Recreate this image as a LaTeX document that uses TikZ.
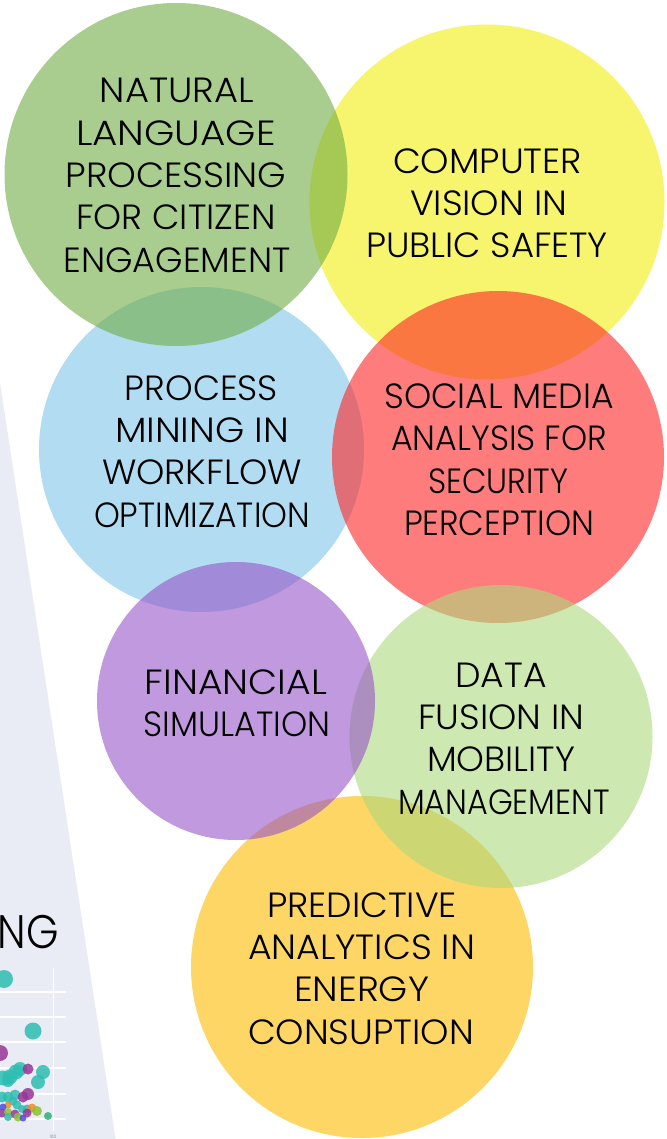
\documentclass[tikz,border=0pt]{standalone}
\usepackage{fontspec}
\setmainfont{Poppins}[UprightFont={* Light}]
\usepackage{graphicx}
\definecolor{cYellow}{RGB}{242,237,13}
\definecolor{cBlue}{RGB}{128,197,232}
\definecolor{cOrange}{RGB}{252,188,0}
\definecolor{cRed}{RGB}{255,37,37}
\definecolor{cGreen}{RGB}{112,172,68}
\definecolor{cLGreen}{RGB}{172,217,125}
\definecolor{cPurple}{RGB}{150,85,200}
\definecolor{cLav}{RGB}{233,235,245}
\definecolor{pTeal}{RGB}{45,190,178}
\definecolor{pPurple}{RGB}{150,55,150}
\definecolor{pOrange}{RGB}{240,140,40}
\definecolor{pYG}{RGB}{140,195,50}
\definecolor{pBlue}{RGB}{70,80,230}
\definecolor{pGreen}{RGB}{40,180,120}
\tikzset{
  bubble/.style={circle,inner sep=0pt,draw=none,fill opacity=0.6},
  txt/.style={inner sep=0pt,outer sep=0pt,text=black,font=\fontsize{35}{42}\selectfont,anchor=base},
  grid/.style={draw=white,line width=1.3pt},
  dot/.style={fill opacity=0.85}
}
\newcommand\tline[5]{\node[txt] (#1) at (#2,#3) {\resizebox{#4pt}{\height}{#5}};}
\begin{document}
\begin{tikzpicture}[x=1pt,y=-1pt]
\useasboundingbox (0,0) rectangle (666,1139);
\clip (0,0) rectangle (666,1139);
\fill[white] (0,0) rectangle (666,1139);
% background slide strip
\fill[cLav] (0,383) -- (115.5,1139) -- (0,1139) -- cycle;
\node[inner sep=0pt,anchor=base east,font=\fontsize{47}{50}\selectfont] (ng) at (59,948) {\resizebox{61pt}{\height}{NG}};
% chart grid
\foreach \gy in {992,1017,1042,1068,1094,1119} \draw[grid] (0,\gy) -- (66,\gy);
\draw[grid] (53.3,968) -- (53.3,1131);
\node[inner sep=0pt,text=black!50,font=\fontsize{4.5}{5}\selectfont] (lbl) at (53,1136.5) {100};
% bubbles of the chart
\foreach \bx/\by/\br/\bc in {
  4/979/9/pTeal, 33/1031/8.5/pTeal, 0/1053/8/pPurple,
  3/1078/7.5/pTeal, 10/1077/7.5/pTeal, 16/1072/7.5/pTeal, 20/1069/7/pTeal, 28/1069/5.5/pPurple,
  43/1072/7/pTeal, 38/1082/7/pTeal, 8/1081/6/pTeal,
  2/1097/5.5/pTeal, 8/1097/5.5/pTeal, 15/1095/5.5/pTeal, 23/1097/5.5/pPurple, 28/1094/6/pPurple,
  13/1101/4.5/pTeal, 17/1105/4.5/pTeal, 27/1109/4.5/pTeal, 8/1105/3.5/pOrange, 3/1107/3.5/pBlue,
  32/1108/4.5/pOrange, 37/1111/5/pYG, 2/1113/4.5/pPurple, 8/1112/4/pYG, 15/1114/4.5/pPurple,
  22/1109/4/pTeal, 27/1113/4.5/pPurple, 8/1117/4/pTeal, 18/1117/4.5/pYG, 23/1118/3.5/pBlue, 48/1116/4/pGreen}
  \fill[dot,\bc] (\bx,\by) circle[radius=\br];
% main circles (bottom to top)
\node[bubble,fill=cYellow,minimum size=355pt] (cv) at (487,202) {};
\node[bubble,fill=cBlue,minimum size=325pt] (pm) at (201.5,449.5) {};
\node[bubble,fill=cOrange,minimum size=342pt] (pa) at (362,967) {};
\node[bubble,fill=cRed,minimum size=332pt] (sm) at (498,457) {};
\node[bubble,fill=cGreen,minimum size=343pt] (nlp) at (176,174.5) {};
\node[bubble,fill=cLGreen,minimum size=303pt] (df) at (501,736.5) {};
\node[bubble,fill=cPurple,minimum size=278pt] (fs) at (236,701) {};
% texts
\tline{nlpa}{177}{103}{154}{NATURAL}
\tline{nlpb}{176}{145.5}{199.5}{LANGUAGE}
\tline{nlpc}{176}{187.5}{221}{PROCESSING}
\tline{nlpd}{176}{230}{199.5}{FOR CITIZEN}
\tline{nlpe}{177}{272.5}{227}{ENGAGEMENT}
\tline{cva}{487.5}{174}{189}{COMPUTER}
\tline{cvb}{488.5}{216}{157}{VISION IN}
\tline{cvc}{487}{258}{242}{PUBLIC SAFETY}
\tline{pma}{201.5}{400}{153}{PROCESS}
\tline{pmb}{202}{442}{174}{MINING IN}
\tline{pmc}{202}{484}{200}{WORKFLOW}
\tline{pmd}{202}{527}{216}{OPTIMIZATION}
\tline{sma}{499}{408}{229.5}{SOCIAL MEDIA}
\tline{smb}{499}{450}{215.5}{ANALYSIS FOR}
\tline{smc}{498}{493}{140}{SECURITY}
\tline{smd}{499}{535}{190}{PERCEPTION}
\tline{fsa}{236}{694}{182}{FINANCIAL}
\tline{fsb}{237}{736}{186.5}{SIMULATION}
\tline{dfa}{501}{687}{91.5}{DATA}
\tline{dfb}{501}{729}{166}{FUSION IN}
\tline{dfc}{501}{771}{148}{MOBILITY}
\tline{dfd}{504}{814}{212}{MANAGEMENT}
\tline{paa}{362}{917}{190}{PREDICTIVE}
\tline{pab}{361.5}{959.5}{227}{ANALYTICS IN}
\tline{pac}{361.5}{1001.5}{135}{ENERGY}
\tline{pad}{361}{1044}{226}{CONSUPTION}
\end{tikzpicture}
\end{document}
